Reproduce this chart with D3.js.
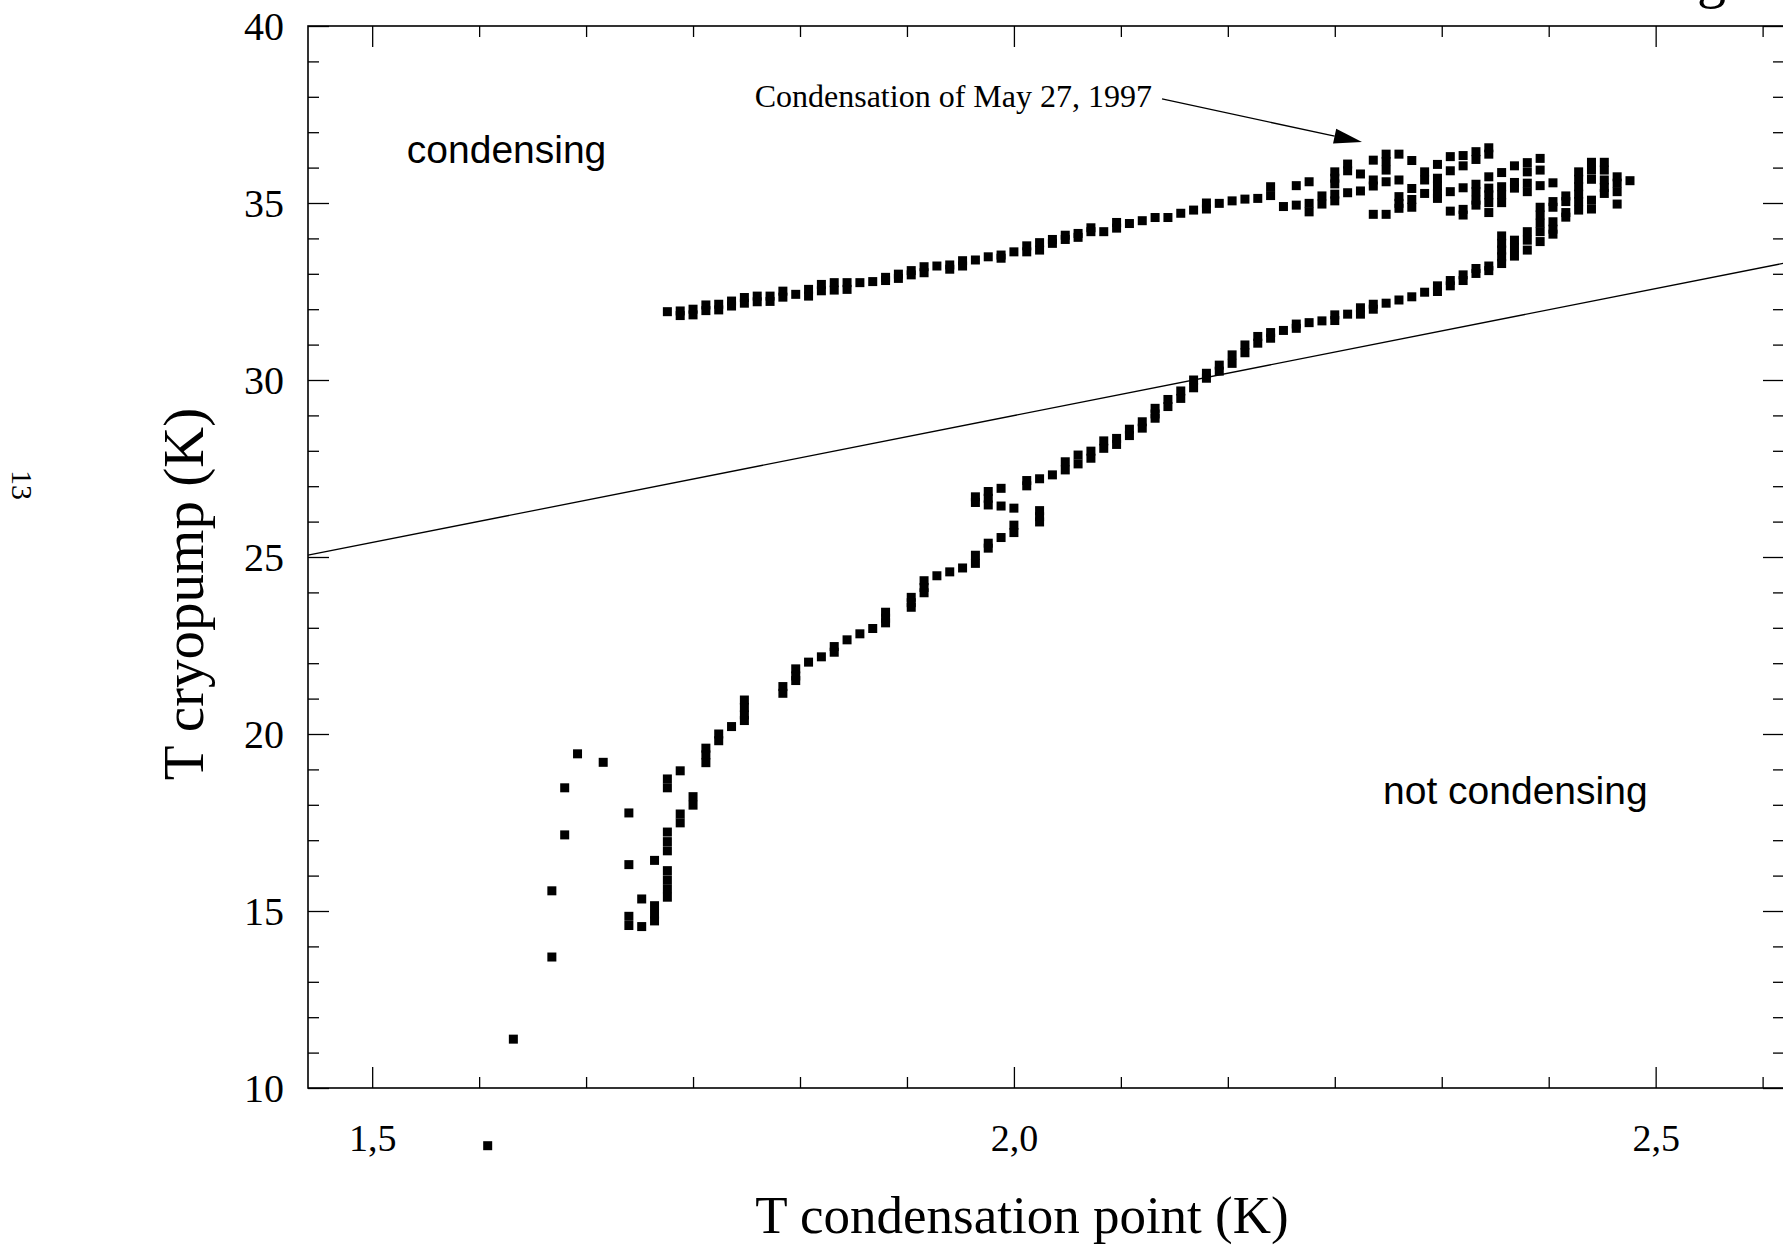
<!DOCTYPE html>
<html><head><meta charset="utf-8">
<script src="https://cdn.jsdelivr.net/npm/d3@7"></script>
<style>body{margin:0;background:#fff;} svg{display:block;}</style>
</head><body>
<svg id="c" width="1783" height="1246"></svg>
<script>
// ---- data (T condensation point [K], T cryopump [K]) ----
const lowScatter = [
[1.59,8.37],[1.61,11.38],[1.64,13.70],[1.64,15.57],[1.65,17.15],[1.65,18.48],[1.66,19.44],[1.68,19.20],
[1.70,17.77],[1.70,16.31],[1.70,14.85],[1.70,14.59],[1.71,15.34],[1.71,14.56],
[1.72,16.43],[1.72,15.15],[1.72,14.91],[1.72,14.72],
[1.73,18.73],[1.73,18.48],[1.73,17.23],[1.73,16.96],[1.73,16.70],[1.73,16.14],[1.73,15.88],[1.73,15.63],[1.73,15.39],
[1.74,18.96],[1.74,17.74],[1.74,17.49],[1.75,18.23],[1.75,17.99],
[1.76,19.60],[1.76,19.41],[1.76,19.19]
];
const risingBranch = [
[1.77,20.00],[1.77,19.81],[1.78,20.21],[1.79,20.96],[1.79,20.75],[1.79,20.54],[1.79,20.38],
[1.82,21.34],[1.82,21.15],[1.83,21.84],[1.83,21.64],[1.83,21.51],[1.84,22.03],[1.85,22.18],
[1.86,22.47],[1.86,22.31],[1.87,22.66],[1.88,22.83],[1.89,22.98],
[1.90,23.44],[1.90,23.27],[1.90,23.14],[1.92,23.86],[1.92,23.71],[1.92,23.58],
[1.93,24.33],[1.93,24.14],[1.93,23.99],[1.94,24.47],[1.95,24.58],[1.96,24.69],
[1.97,25.05],[1.97,24.82],[1.98,25.39],[1.98,25.25],[1.99,25.55],[2.00,25.90],[2.00,25.69],
[2.02,26.31],[2.02,26.14],[2.02,25.99],
[1.97,26.70],[1.97,26.54],[1.98,26.85],[1.98,26.66],[1.98,26.47],[1.99,26.94],[1.99,26.44],[2.00,26.38],
[2.01,27.16],[2.01,27.01],[2.02,27.21],[2.03,27.32],[2.04,27.69],[2.04,27.46],
[2.05,27.88],[2.05,27.63],[2.06,27.99],[2.06,27.79],[2.07,28.28],[2.07,28.07],
[2.08,28.35],[2.08,28.18],[2.09,28.61],[2.09,28.43],[2.10,28.82],[2.10,28.64],
[2.11,29.20],[2.11,29.04],[2.11,28.92],[2.12,29.45],[2.12,29.25],[2.13,29.69],[2.13,29.48],
[2.14,30.00],[2.14,29.78],[2.15,30.19],[2.15,30.05],[2.16,30.42],[2.16,30.25],
[2.17,30.71],[2.17,30.47],[2.18,30.99],[2.18,30.77],[2.19,31.23],[2.19,31.04],
[2.20,31.34],[2.20,31.18],[2.21,31.40],[2.22,31.58],[2.22,31.46],[2.23,31.62],[2.24,31.67],
[2.25,31.84],[2.25,31.68],[2.26,31.86],[2.27,32.04],[2.27,31.86],[2.28,32.14],[2.28,32.00],
[2.29,32.17],[2.30,32.26],[2.31,32.35],[2.32,32.48],[2.33,32.66],[2.33,32.50],
[2.34,32.81],[2.34,32.66],[2.35,32.97],[2.35,32.81],[2.36,33.15],[2.36,33.01],[2.37,33.22],[2.37,33.09],
[2.38,34.07],[2.38,33.86],[2.38,33.67],[2.38,33.48],[2.38,33.29],
[2.39,33.95],[2.39,33.74],[2.39,33.50],[2.40,34.19],[2.40,33.95],[2.40,33.67],
[2.41,34.88],[2.41,34.66],[2.41,34.43],[2.41,34.19],[2.41,33.91],
[2.42,35.04],[2.42,34.88],[2.42,34.47],[2.42,34.26],[2.42,34.12],
[2.43,35.20],[2.43,35.04],[2.43,34.73],[2.43,34.60],
[2.44,35.88],[2.44,35.67],[2.44,35.46],[2.44,35.25],[2.44,35.04],[2.44,34.80],
[2.45,36.15],[2.45,35.93],[2.45,35.67],[2.45,35.08],[2.45,34.83],
[2.46,36.15],[2.46,35.93],[2.46,35.65],[2.46,35.44],[2.46,35.27],
[2.47,35.74],[2.47,35.56],[2.47,35.32],[2.47,34.97],[2.48,35.63]
];
const upperBranch = [
[1.73,31.93],[1.74,31.95],[1.74,31.82],[1.75,32.00],[1.75,31.84],[1.76,32.12],[1.76,31.96],
[1.77,32.14],[1.77,31.98],[1.78,32.23],[1.78,32.09],[1.79,32.33],[1.79,32.17],
[1.80,32.37],[1.80,32.21],[1.81,32.37],[1.81,32.22],[1.82,32.51],[1.82,32.34],[1.83,32.42],
[1.84,32.56],[1.84,32.37],[1.85,32.70],[1.85,32.52],[1.86,32.75],[1.86,32.54],
[1.87,32.75],[1.87,32.56],[1.88,32.75],[1.89,32.78],[1.90,32.90],[1.90,32.81],
[1.91,32.99],[1.91,32.87],[1.92,33.09],[1.92,32.97],[1.93,33.20],[1.93,33.03],[1.94,33.22],
[1.95,33.25],[1.95,33.13],[1.96,33.37],[1.96,33.22],[1.97,33.39],[1.98,33.48],
[1.99,33.53],[1.99,33.44],[2.00,33.62],[2.01,33.79],[2.01,33.62],[2.02,33.88],[2.02,33.67],
[2.03,33.97],[2.03,33.86],[2.04,34.09],[2.04,33.97],[2.05,34.14],[2.05,34.03],
[2.06,34.30],[2.06,34.19],[2.07,34.19],[2.08,34.45],[2.08,34.29],[2.09,34.42],
[2.10,34.50],[2.11,34.59],[2.12,34.59],[2.13,34.71],[2.14,34.80],[2.15,35.00],[2.15,34.83],
[2.16,34.99],[2.17,35.06],[2.18,35.11],[2.19,35.13]
];
const cluster = [
[2.20,35.46],[2.20,35.21],[2.21,34.90],[2.22,35.49],[2.22,34.94],
[2.23,35.60],[2.23,34.99],[2.23,34.75],[2.24,35.20],[2.24,34.97],
[2.25,35.88],[2.25,35.70],[2.25,35.54],[2.25,35.25],[2.25,35.06],
[2.26,36.10],[2.26,35.91],[2.26,35.29],[2.27,35.82],[2.27,35.34],
[2.28,36.21],[2.28,35.65],[2.28,35.48],[2.28,34.68],
[2.29,36.38],[2.29,36.17],[2.29,35.93],[2.29,35.60],[2.29,34.68],
[2.30,36.38],[2.30,35.65],[2.30,35.18],[2.30,34.99],[2.30,34.85],
[2.31,36.20],[2.31,35.41],[2.31,35.10],[2.31,34.88],
[2.32,35.88],[2.32,35.65],[2.32,35.27],
[2.33,36.09],[2.33,35.70],[2.33,35.48],[2.33,35.27],[2.33,35.13],
[2.34,36.31],[2.34,35.91],[2.34,35.32],[2.34,34.77],
[2.35,36.34],[2.35,36.05],[2.35,35.43],[2.35,34.82],[2.35,34.66],
[2.36,36.45],[2.36,36.23],[2.36,35.53],[2.36,35.32],[2.36,35.08],[2.36,34.94],
[2.37,36.56],[2.37,36.38],[2.37,35.74],[2.37,35.42],[2.37,35.23],[2.37,35.01],[2.37,34.73],
[2.38,35.86],[2.38,35.46],[2.38,35.23],[2.38,35.01],
[2.39,36.05],[2.39,35.58],[2.39,35.42],
[2.40,36.14],[2.40,35.88],[2.40,35.56],[2.40,35.32],
[2.41,36.26],[2.41,35.93],[2.41,35.49],[2.42,35.57]
];
const refLine = [[1.45,25.05],[2.6,33.3]];
const xMajorTicks = [1.5,2.0,2.5];
const xTickLabels = ["1,5","2,0","2,5"];
const yMajorTicks = [10,15,20,25,30,35,40];
const yTickLabels = ["10","15","20","25","30","35","40"];
const xTitle = "T condensation point (K)";
const yTitle = "T cryopump (K)";
const annotationText = "Condensation of May 27, 1997";
const regionLabels = ["condensing","not condensing"];
const pageNumber = "13";

// ---- layout ----
const svg = d3.select("#c");
const L=308, R=1784, T=26, B=1088;
const x = d3.scaleLinear().domain([1.45,2.6]).range([L,R]);
const y = d3.scaleLinear().domain([10,40]).range([B,T]);
const serif = "'Liberation Serif','Times New Roman',serif";
const sans = "'Liberation Sans',Arial,Helvetica,sans-serif";

const xMinor = d3.range(0,14).map(i=>1.5+i/12).filter(v=>v>1.45&&v<2.6&&Math.abs((v*2)-Math.round(v*2))>1e-6);
const yMinor = d3.range(10,41).filter(v=>v%5!==0);

function styleAxis(g){ g.select(".domain").remove(); g.selectAll(".tick line").attr("stroke","#000").attr("stroke-width",1.3); }

// bottom
svg.append("g").attr("transform",`translate(0,${B})`)
  .call(d3.axisBottom(x).tickValues(xMajorTicks).tickSize(-21).tickFormat((d,i)=>xTickLabels[i]))
  .call(styleAxis)
  .call(g=>g.selectAll("text").attr("y",63).attr("dy",null).attr("font-family",serif).attr("font-size",38).attr("fill","#000"));
svg.append("g").attr("transform",`translate(0,${B})`)
  .call(d3.axisBottom(x).tickValues(xMinor).tickSize(-11).tickFormat(""))
  .call(styleAxis);
// top
svg.append("g").attr("transform",`translate(0,${T})`)
  .call(d3.axisTop(x).tickValues(xMajorTicks).tickSize(-21).tickFormat("")).call(styleAxis);
svg.append("g").attr("transform",`translate(0,${T})`)
  .call(d3.axisTop(x).tickValues(xMinor).tickSize(-11).tickFormat("")).call(styleAxis);
// left
svg.append("g").attr("transform",`translate(${L},0)`)
  .call(d3.axisLeft(y).tickValues(yMajorTicks).tickSize(-21).tickFormat((d,i)=>yTickLabels[i]))
  .call(styleAxis)
  .call(g=>g.selectAll("text").attr("x",-24).attr("dy","0.34em").attr("font-family",serif).attr("font-size",40).attr("fill","#000"));
svg.append("g").attr("transform",`translate(${L},0)`)
  .call(d3.axisLeft(y).tickValues(yMinor).tickSize(-11).tickFormat("")).call(styleAxis);
// right
svg.append("g").attr("transform",`translate(${R},0)`)
  .call(d3.axisRight(y).tickValues(yMajorTicks).tickSize(-21).tickFormat("")).call(styleAxis);
svg.append("g").attr("transform",`translate(${R},0)`)
  .call(d3.axisRight(y).tickValues(yMinor).tickSize(-11).tickFormat("")).call(styleAxis);

// frame
svg.append("rect").attr("x",L).attr("y",T).attr("width",R-L).attr("height",B-T)
  .attr("fill","none").attr("stroke","#000").attr("stroke-width",1.6);

// reference line
svg.append("path").datum(refLine)
  .attr("d",d3.line().x(d=>x(d[0])).y(d=>y(d[1])))
  .attr("fill","none").attr("stroke","#000").attr("stroke-width",1.3);

// points
const allPts = lowScatter.concat(risingBranch, upperBranch, cluster);
const S = 9;
svg.append("g").selectAll("rect").data(allPts).join("rect")
  .attr("x",d=>x(d[0])-S/2).attr("y",d=>y(d[1])-S/2).attr("width",S).attr("height",S).attr("fill","#000");

// annotation
const annText = {x:1.798, y:37.71};
const arrowFrom = {x:2.1154, y:37.94};
const arrowTo = {x:2.2712, y:36.72};
svg.append("text").attr("x",x(annText.x)).attr("y",y(annText.y))
  .attr("font-family",serif).attr("font-size",32).text(annotationText);
{
  const x1=x(arrowFrom.x), y1=y(arrowFrom.y), x2=x(arrowTo.x), y2=y(arrowTo.y);
  const dx=x2-x1, dy=y2-y1, len=Math.hypot(dx,dy), ux=dx/len, uy=dy/len;
  const hl=28, hw=7.5;
  const bx=x2-ux*hl, by=y2-uy*hl;
  svg.append("line").attr("x1",x1).attr("y1",y1).attr("x2",bx).attr("y2",by).attr("stroke","#000").attr("stroke-width",1.3);
  svg.append("path").attr("d",`M${x2},${y2}L${bx-uy*hw},${by+ux*hw}L${bx+uy*hw},${by-ux*hw}Z`).attr("fill","#000");
}

// region labels
svg.append("text").attr("x",x(1.527)).attr("y",y(36.13)).attr("font-family",sans).attr("font-size",39).text(regionLabels[0]);
svg.append("text").attr("x",x(2.2876)).attr("y",y(18.02)).attr("font-family",sans).attr("font-size",39).text(regionLabels[1]);

// axis titles
svg.append("text").attr("x",1022).attr("y",1233).attr("text-anchor","middle")
  .attr("font-family",serif).attr("font-size",53).text(xTitle);
svg.append("text").attr("transform","translate(203,594) rotate(-90)").attr("text-anchor","middle")
  .attr("font-family",serif).attr("font-size",57).text(yTitle);

// page number (rotated page)
svg.append("text").attr("transform","translate(12,485) rotate(90)").attr("text-anchor","middle")
  .attr("font-family",serif).attr("font-size",30).text(pageNumber);

// fragment of a title cut off at the top edge
svg.append("text").attr("x",1697).attr("y",-3).attr("font-family",serif).attr("font-size",58).text("g");
</script>
</body></html>
